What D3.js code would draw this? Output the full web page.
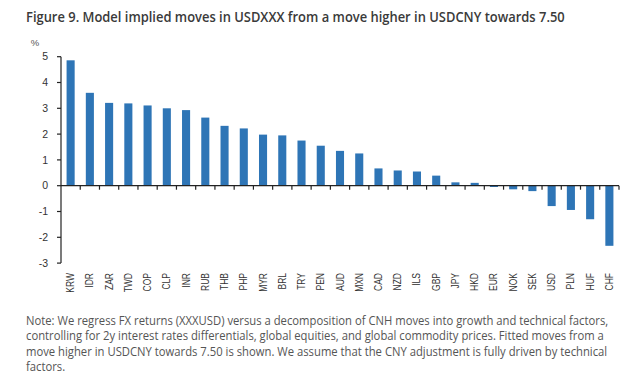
<!DOCTYPE html>
<html>
<head>
<meta charset="utf-8">
<script src="https://cdn.jsdelivr.net/npm/d3@7"></script>
<style>
  body { margin: 0; background: #fff; }
  svg { display: block; }
</style>
</head>
<body>
<div id="chart"></div>
<script>
// currencies and fitted moves (%)
const currencies = ["KRW", "IDR", "ZAR", "TWD", "COP", "CLP", "INR", "RUB", "THB", "PHP",
  "MYR", "BRL", "TRY", "PEN", "AUD", "MXN", "CAD", "NZD", "ILS", "GBP",
  "JPY", "HKD", "EUR", "NOK", "SEK", "USD", "PLN", "HUF", "CHF"];
const moves = [4.86, 3.6, 3.21, 3.19, 3.11, 3.0, 2.93, 2.64, 2.32, 2.22,
  1.98, 1.95, 1.75, 1.55, 1.35, 1.25, 0.67, 0.59, 0.55, 0.39,
  0.13, 0.11, -0.05, -0.14, -0.21, -0.79, -0.94, -1.3, -2.33];
const yTicks = [5, 4, 3, 2, 1, 0, -1, -2, -3];

const titleText = "Figure 9. Model implied moves in USDXXX from a move higher in USDCNY towards 7.50";
const noteLines = [
  "Note: We regress FX returns (XXXUSD) versus a decomposition of CNH moves into growth and technical factors,",
  "controlling for 2y interest rates differentials, global equities, and global commodity prices. Fitted moves from a",
  "move higher in USDCNY towards 7.50 is shown. We assume that the CNY adjustment is fully driven by technical",
  "factors."
];

const W = 641, H = 376;
const plotLeft = 61, plotRight = 619, plotTop = 56.7, plotBottom = 263.1;
const barColor = "#2e75b6";
const axisColor = "#222";
const textFont = "'Open Sans', 'Noto Sans', sans-serif";
const tickFont = "'Liberation Sans', Arial, sans-serif";

const svg = d3.select("#chart").append("svg")
  .attr("width", W)
  .attr("height", H);

// title, squeezed to the width of the original (narrow font)
const title = svg.append("text")
  .attr("font-family", textFont)
  .attr("font-weight", 600)
  .attr("font-size", "14px")
  .attr("fill", "#3a3a3a")
  .text(titleText);
const tw = title.node().getComputedTextLength();
title.attr("transform", `translate(26,22) scale(${539 / tw},1)`);

const x = d3.scaleBand()
  .domain(currencies)
  .range([plotLeft, plotRight])
  .paddingInner(0.58)
  .paddingOuter(0.29);

const y = d3.scaleLinear()
  .domain([-3, 5])
  .range([plotBottom, plotTop]);

// bars
svg.append("g")
  .selectAll("rect")
  .data(currencies)
  .join("rect")
    .attr("x", d => x(d))
    .attr("width", x.bandwidth())
    .attr("y", (d, i) => y(Math.max(0, moves[i])))
    .attr("height", (d, i) => Math.abs(y(moves[i]) - y(0)))
    .attr("fill", barColor);

// y axis
const yAxis = svg.append("g").attr("transform", `translate(${plotLeft},0)`);
yAxis.append("line")
  .attr("y1", y(-3)).attr("y2", y(5))
  .attr("stroke", axisColor).attr("stroke-width", 1.2);
yAxis.selectAll(".ytick")
  .data(yTicks)
  .join("line")
    .attr("class", "ytick")
    .attr("x1", -4).attr("x2", 0)
    .attr("y1", d => y(d)).attr("y2", d => y(d))
    .attr("stroke", axisColor).attr("stroke-width", 1.2);
yAxis.selectAll(".ylab")
  .data(yTicks)
  .join("text")
    .attr("class", "ylab")
    .attr("x", -13)
    .attr("y", d => y(d))
    .attr("dy", "0.35em")
    .attr("text-anchor", "end")
    .attr("font-family", tickFont)
    .attr("font-size", "10.5px")
    .attr("fill", "#333")
    .text(d => d);

svg.append("text")
  .attr("x", 35).attr("y", 46)
  .attr("text-anchor", "middle")
  .attr("font-family", tickFont)
  .attr("font-size", "9.5px")
  .attr("fill", "#555")
  .text("%");

// x axis at zero, ticks between the bars
const step = x.step();
const xAxis = svg.append("g").attr("transform", `translate(0,${y(0)})`);
xAxis.append("line")
  .attr("x1", plotLeft).attr("x2", plotRight)
  .attr("stroke", axisColor).attr("stroke-width", 1.2);
xAxis.selectAll(".xtick")
  .data(currencies)
  .join("line")
    .attr("class", "xtick")
    .attr("x1", (d, i) => plotLeft + step * (i + 1))
    .attr("x2", (d, i) => plotLeft + step * (i + 1))
    .attr("y1", 0).attr("y2", 4)
    .attr("stroke", axisColor).attr("stroke-width", 1.2);

svg.append("g")
  .selectAll("text")
  .data(currencies)
  .join("text")
    .attr("transform", d => `translate(${x(d) + x.bandwidth() / 2},273) rotate(-90) scale(0.85,1)`)
    .attr("dy", "0.35em")
    .attr("text-anchor", "end")
    .attr("font-family", tickFont)
    .attr("font-size", "10px")
    .attr("fill", "#333")
    .text(d => d);

// note below the chart
const note = svg.append("g")
  .attr("font-family", textFont)
  .attr("font-size", "12.5px")
  .attr("fill", "#555");
const lines = note.selectAll("text")
  .data(noteLines)
  .join("text")
    .text(d => d);
const nw = lines.node().getComputedTextLength();
const k = 583 / nw;
lines.attr("transform", (d, i) => `translate(26,${324.5 + i * 15.6}) scale(${k},1)`);
</script>
</body>
</html>
